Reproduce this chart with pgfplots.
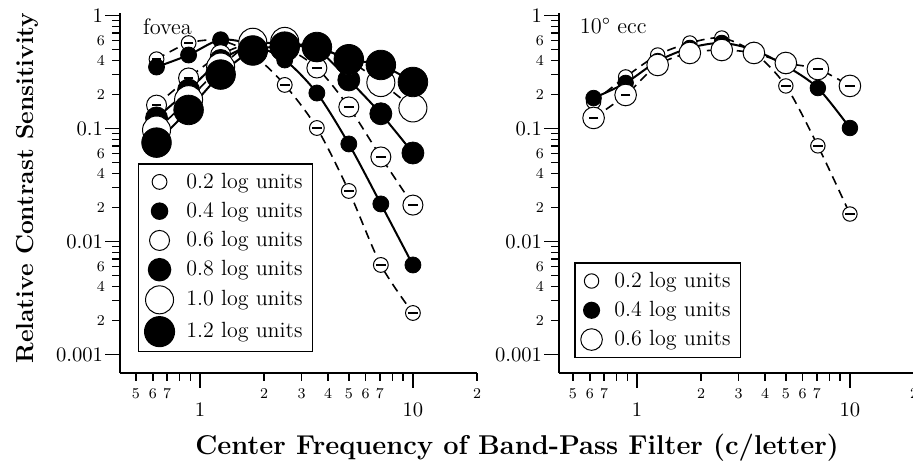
\documentclass[border=0pt]{standalone}
\usepackage{pgfplots}
\pgfplotsset{compat=1.18}
\newcommand{\mn}[1]{\fontsize{7.5}{8}\selectfont #1}
\newcommand{\mj}[1]{\rule{0pt}{10.8pt}#1}
\tikzset{
  dl/.style={black, line width=0.8pt, dash pattern=on 4.5pt off 3pt, smooth, mark=none},
  sl/.style={black, line width=1pt, smooth, mark=none},
  om/.style={only marks, mark=*, mark options={fill=white, draw=black, line width=0.5pt, solid}, mark size=#1},
  fm/.style={only marks, mark=*, mark options={fill=black, draw=black, solid}, mark size=#1},
  errbar/.style={only marks, mark=-, mark size=2.4pt, mark options={line width=1.3pt, black, solid}},
}
\begin{document}
\begin{tikzpicture}
% ---------------- fovea ----------------
\begin{axis}[at={(60pt,46.5pt)}, anchor=south west, width=178.5pt, xmin=0.421,
    xmode=log, ymode=log, scale only axis, height=180pt,
    xmax=20, ymin=0.000686, ymax=1.052,
    axis x line*=bottom, axis y line*=left,
    axis line style={line width=1pt,-},
    tick align=outside, major tick length=7.5pt, minor tick length=4pt,
    tick style={line width=0.75pt, black},
    tick label style={font=\fontsize{10.3}{12}\selectfont},
    xtick={1,10}, xticklabels={\mj{1},\mj{10}},
    minor xtick={0.5,0.6,0.7,0.8,0.9,2,3,4,5,6,7,8,9,20},
    extra x ticks={0.5,0.6,0.7,2,3,4,5,6,7,20},
    extra x tick labels={\mn5,\mn6,\mn7,\mn2,\mn3,\mn4,\mn5,\mn6,\mn7,\mn2},
    extra x tick style={major tick length=4pt},
    ytick={0.001,0.01,0.1,1}, yticklabels={0.001,0.01,0.1,1},
    yticklabel shift=-2.5pt,
    minor ytick={0.002,0.003,0.004,0.005,0.006,0.007,0.008,0.009,0.02,0.03,0.04,0.05,0.06,0.07,0.08,0.09,0.2,0.3,0.4,0.5,0.6,0.7,0.8,0.9},
    extra y ticks={0.002,0.004,0.006,0.02,0.04,0.06,0.2,0.4,0.6},
    extra y tick labels={\mn2,\mn4,\mn6,\mn2,\mn4,\mn6,\mn2,\mn4,\mn6},
    extra y tick style={major tick length=4pt, yticklabel shift=0pt},
    legend cell align=left,
    legend style={draw=black, line width=0.75pt, font=\fontsize{11}{13}\selectfont,
      row sep=1.5pt, column sep=4pt, inner xsep=3pt, inner ysep=2.5pt,
      at={(axis description cs:0.0504,0.5833)}, anchor=north west}]
\addplot[dl, forget plot] coordinates {(0.625,0.41)(0.884,0.57)(1.25,0.60)(1.77,0.45)(2.5,0.243)(3.54,0.101)(5,0.028)(7.07,0.0062)(10,0.00233)};
\addplot[om=3.7pt] coordinates {(0.625,0.41)(0.884,0.57)(1.25,0.60)(1.77,0.45)(2.5,0.243)(3.54,0.101)(5,0.028)(7.07,0.0062)(10,0.00233)};
\addlegendentry{0.2 log units}
\addplot[errbar, forget plot] coordinates {(0.625,0.41)(0.884,0.57)(2.5,0.243)(3.54,0.101)(5,0.028)(7.07,0.0062)(10,0.00233)};
\addplot[sl, forget plot] coordinates {(0.625,0.35)(0.884,0.447)(1.25,0.61)(1.77,0.55)(2.5,0.404)(3.54,0.206)(5,0.073)(7.07,0.0215)(10,0.0062)};
\addplot[fm=4pt] coordinates {(0.625,0.35)(0.884,0.447)(1.25,0.61)(1.77,0.55)(2.5,0.404)(3.54,0.206)(5,0.073)(7.07,0.0215)(10,0.0062)};
\addlegendentry{0.4 log units}
\addplot[dl, forget plot] coordinates {(0.625,0.161)(0.884,0.28)(1.25,0.45)(1.77,0.57)(2.5,0.52)(3.54,0.343)(5,0.155)(7.07,0.056)(10,0.021)};
\addplot[om=5pt] coordinates {(0.625,0.161)(0.884,0.28)(1.25,0.45)(1.77,0.57)(2.5,0.52)(3.54,0.343)(5,0.155)(7.07,0.056)(10,0.021)};
\addlegendentry{0.6 log units}
\addplot[errbar, forget plot] coordinates {(0.625,0.161)(0.884,0.28)(3.54,0.343)(5,0.155)(7.07,0.056)(10,0.021)};
\addplot[sl, forget plot] coordinates {(0.625,0.124)(0.884,0.219)(1.25,0.40)(1.77,0.55)(2.5,0.57)(3.54,0.50)(5,0.269)(7.07,0.135)(10,0.0607)};
\addplot[fm=5.5pt] coordinates {(0.625,0.124)(0.884,0.219)(1.25,0.40)(1.77,0.55)(2.5,0.57)(3.54,0.50)(5,0.269)(7.07,0.135)(10,0.0607)};
\addlegendentry{0.8 log units}
\addplot[dl, forget plot] coordinates {(0.625,0.097)(0.884,0.18)(1.25,0.35)(1.77,0.58)(2.5,0.59)(3.54,0.52)(5,0.40)(7.07,0.255)(10,0.152)};
\addplot[om=7pt] coordinates {(0.625,0.097)(0.884,0.18)(1.25,0.35)(1.77,0.58)(2.5,0.59)(3.54,0.52)(5,0.40)(7.07,0.255)(10,0.152)};
\addlegendentry{1.0 log units}
\addplot[sl, forget plot] coordinates {(0.625,0.075)(0.884,0.146)(1.25,0.30)(1.77,0.49)(2.5,0.53)(3.54,0.526)(5,0.41)(7.07,0.365)(10,0.258)};
\addplot[fm=7.4pt] coordinates {(0.625,0.075)(0.884,0.146)(1.25,0.30)(1.77,0.49)(2.5,0.53)(3.54,0.526)(5,0.41)(7.07,0.365)(10,0.258)};
\addlegendentry{1.2 log units}
\node[anchor=base west, font=\fontsize{11.2}{13}\selectfont] at (axis description cs:0.0448,0.939) {fovea};
\end{axis}
% ---------------- 10 deg ecc ----------------
\begin{axis}[at={(279.5pt,46.5pt)}, anchor=south west, width=177.5pt, xmin=0.43,
    xmode=log, ymode=log, scale only axis, height=180pt,
    xmax=20, ymin=0.000686, ymax=1.052,
    axis x line*=bottom, axis y line*=left,
    axis line style={line width=1pt,-},
    tick align=outside, major tick length=7.5pt, minor tick length=4pt,
    tick style={line width=0.75pt, black},
    tick label style={font=\fontsize{10.3}{12}\selectfont},
    xtick={1,10}, xticklabels={\mj{1},\mj{10}},
    minor xtick={0.5,0.6,0.7,0.8,0.9,2,3,4,5,6,7,8,9,20},
    extra x ticks={0.5,0.6,0.7,2,3,4,5,6,7,20},
    extra x tick labels={\mn5,\mn6,\mn7,\mn2,\mn3,\mn4,\mn5,\mn6,\mn7,\mn2},
    extra x tick style={major tick length=4pt},
    ytick={0.001,0.01,0.1,1}, yticklabels={0.001,0.01,0.1,1},
    yticklabel shift=-2.5pt,
    minor ytick={0.002,0.003,0.004,0.005,0.006,0.007,0.008,0.009,0.02,0.03,0.04,0.05,0.06,0.07,0.08,0.09,0.2,0.3,0.4,0.5,0.6,0.7,0.8,0.9},
    extra y ticks={0.002,0.004,0.006,0.02,0.04,0.06,0.2,0.4,0.6},
    extra y tick labels={\mn2,\mn4,\mn6,\mn2,\mn4,\mn6,\mn2,\mn4,\mn6},
    extra y tick style={major tick length=4pt, yticklabel shift=0pt},
    legend cell align=left,
    legend style={draw=black, line width=0.75pt, font=\fontsize{11}{13}\selectfont,
      row sep=1.5pt, column sep=4pt, inner xsep=3pt, inner ysep=2.5pt,
      at={(axis description cs:0.0423,0.308)}, anchor=north west}]
\addplot[dl, forget plot] coordinates {(0.625,0.172)(0.884,0.286)(1.25,0.447)(1.77,0.571)(2.5,0.632)(3.54,0.47)(5,0.238)(7.07,0.0702)(10,0.0175)};
\addplot[om=3.6pt] coordinates {(0.625,0.172)(0.884,0.286)(1.25,0.447)(1.77,0.571)(2.5,0.632)(3.54,0.47)(5,0.238)(7.07,0.0702)(10,0.0175)};
\addlegendentry{0.2 log units}
\addplot[errbar, forget plot] coordinates {(5,0.238)(7.07,0.0702)(10,0.0175)};
\addplot[sl, forget plot] coordinates {(0.625,0.186)(0.884,0.253)(1.25,0.395)(1.77,0.516)(2.5,0.571)(3.54,0.495)(5,0.358)(7.07,0.228)(10,0.101)};
\addplot[fm=3.9pt] coordinates {(0.625,0.186)(0.884,0.253)(1.25,0.395)(1.77,0.516)(2.5,0.571)(3.54,0.495)(5,0.358)(7.07,0.228)(10,0.101)};
\addlegendentry{0.4 log units}
\addplot[dl, forget plot] coordinates {(0.625,0.124)(0.884,0.198)(1.25,0.365)(1.77,0.466)(2.5,0.495)(3.54,0.466)(5,0.38)(7.07,0.336)(10,0.238)};
\addplot[om=5.4pt] coordinates {(0.625,0.124)(0.884,0.198)(1.25,0.365)(1.77,0.466)(2.5,0.495)(3.54,0.466)(5,0.38)(7.07,0.336)(10,0.238)};
\addlegendentry{0.6 log units}
\addplot[errbar, forget plot] coordinates {(0.625,0.124)(0.884,0.198)(7.07,0.336)(10,0.238)};
\node[anchor=base west, font=\fontsize{11.2}{13}\selectfont] at (axis description cs:0.039,0.942) {10\textdegree{} ecc};
\end{axis}
\node[rotate=90, font=\fontsize{12.3}{14}\selectfont\bfseries] at (13.5pt,139pt) {Relative Contrast Sensitivity};
\node[anchor=base, font=\fontsize{13.6}{15}\selectfont\bfseries] at (258.5pt,6pt) {Center Frequency of Band-Pass Filter (c/letter)};
\pgfresetboundingbox
\path[use as bounding box] (0,0) rectangle (456.5pt,233pt);
\end{tikzpicture}
\end{document}
